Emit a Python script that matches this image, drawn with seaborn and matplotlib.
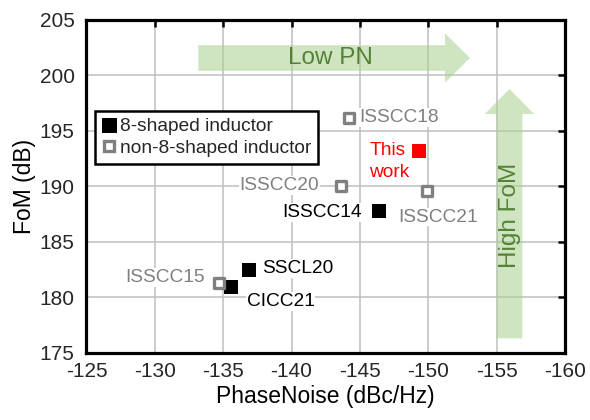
import matplotlib
matplotlib.use("Agg")
import matplotlib.pyplot as plt
from matplotlib.lines import Line2D
import seaborn as sns
import pandas as pd

# ---- data ----
names = ["This work", "ISSCC18", "ISSCC20", "ISSCC21", "ISSCC14", "SSCL20", "CICC21", "ISSCC15"]
phase_noise = [-149.3, -144.2, -143.6, -149.9, -146.4, -136.9, -135.6, -134.7]
fom = [193.2, 196.2, 190.0, 189.55, 187.8, 182.4, 180.9, 181.3]
kind = ["this", "non8", "non8", "non8", "eight", "eight", "eight", "non8"]

x_ticks = [-125, -130, -135, -140, -145, -150, -155, -160]
y_ticks = [175, 180, 185, 190, 195, 200, 205]
legend_labels = ["8-shaped inductor", "non-8-shaped inductor"]

# label offsets (points) and alignment
label_offsets = {
    "This work": (-35.5, -8.0, "left"),
    "ISSCC18": (7.7, 0.0, "left"),
    "ISSCC20": (-15.6, 0.7, "right"),
    "ISSCC21": (-20.4, -18.7, "left"),
    "ISSCC14": (-12.7, -1.4, "right"),
    "SSCL20": (9.6, 1.4, "left"),
    "CICC21": (11.1, -10.4, "left"),
    "ISSCC15": (-10.3, 3.9, "right"),
}

df = pd.DataFrame({"name": names, "pn": phase_noise, "fom": fom, "kind": kind})

sns.set_theme(style="white")
plt.rcParams["font.family"] = ["Liberation Sans", "DejaVu Sans"]
plt.rcParams["axes.unicode_minus"] = False

GRAY = "#808080"
GREEN_TXT = "#548235"
GREEN_FILL = "#a9d18e"

fig = plt.figure(figsize=(5.9, 4.2), dpi=100)
ax = fig.add_axes([0.1466, 0.1607, 0.811, 0.7917])

# arrows (annotations)
arrow_style = "simple,head_length=18,head_width=35.6,tail_width=18.5"
ax.annotate("", xy=(-153.05, 201.57), xytext=(-133.18, 201.57),
            arrowprops=dict(arrowstyle=arrow_style, mutation_scale=1, fc=GREEN_FILL,
                            ec="none", alpha=0.55, shrinkA=0, shrinkB=0), zorder=1)
ax.annotate("", xy=(-155.94, 198.77), xytext=(-155.94, 176.27),
            arrowprops=dict(arrowstyle=arrow_style, mutation_scale=1, fc=GREEN_FILL,
                            ec="none", alpha=0.55, shrinkA=0, shrinkB=0), zorder=1)
ax.text(-142.83, 201.6, "Low PN", color=GREEN_TXT, fontsize=17.5, ha="center",
        va="center", zorder=2)
ax.text(-155.98, 187.4, "High FoM", color=GREEN_TXT, fontsize=17.5, ha="center",
        va="center", rotation=90, zorder=2)

# points
eight = df[df.kind == "eight"]
non8 = df[df.kind == "non8"]
this = df[df.kind == "this"]
sns.scatterplot(data=eight, x="pn", y="fom", ax=ax, marker="s", s=115, color="black",
                edgecolor="black", linewidth=0, zorder=4)
sns.scatterplot(data=non8, x="pn", y="fom", ax=ax, marker="s", s=62, color="white",
                edgecolor=GRAY, linewidth=2.4, zorder=4)
sns.scatterplot(data=this, x="pn", y="fom", ax=ax, marker="s", s=105, color="red",
                edgecolor="red", linewidth=0, zorder=4)

colors = {"this": "red", "non8": GRAY, "eight": "black"}
for n, x, y, k in zip(names, phase_noise, fom, kind):
    dx, dy, ha = label_offsets[n]
    ax.annotate(n.replace(" ", "\n") if n == "This work" else n, xy=(x, y),
                xytext=(dx, dy), textcoords="offset points", ha=ha, va="center",
                color=colors[k], fontsize=13.8, linespacing=1.4, zorder=3,
                bbox=None if k == "this" else dict(fc="white", ec="none", pad=0.5))

ax.set_xlim(-125, -160)
ax.set_ylim(175, 205)
ax.set_xticks(x_ticks)
ax.set_yticks(y_ticks)
ax.set_xticklabels([str(v) for v in x_ticks])
ax.set_yticklabels([str(v) for v in y_ticks])
ax.grid(True, color="#bfbfbf", linewidth=1.1, zorder=0)
ax.set_axisbelow(True)
for s in ax.spines.values():
    s.set_visible(True)
    s.set_color("black")
    s.set_linewidth(2.3)
ax.tick_params(axis="both", which="major", direction="in", length=5, width=1.8,
               color="black", top=True, right=True, labelsize=15)
ax.tick_params(axis="x", pad=6.5)
ax.tick_params(axis="y", pad=8.5)
ax.set_xlabel("PhaseNoise (dBc/Hz)", fontsize=16.5, labelpad=3.5, color="black")
ax.set_ylabel("FoM (dB)", fontsize=16.5, labelpad=3, color="black")

handles = [
    Line2D([], [], marker="s", linestyle="none", markersize=10.8, markerfacecolor="black",
           markeredgecolor="black", markeredgewidth=0),
    Line2D([], [], marker="s", linestyle="none", markersize=7.8, markerfacecolor="white",
           markeredgecolor=GRAY, markeredgewidth=2.4),
]
leg = ax.legend(handles, legend_labels, loc="upper left", bbox_to_anchor=(0.018, 0.726),
                borderaxespad=0, fontsize=13.8, frameon=True, fancybox=False,
                edgecolor="black", framealpha=1, handlelength=0.8, handletextpad=0.15,
                borderpad=0.35, labelspacing=0.22)
leg.get_frame().set_linewidth(1.8)
leg.set_zorder(5)

fig.savefig("out.png", dpi=100)
